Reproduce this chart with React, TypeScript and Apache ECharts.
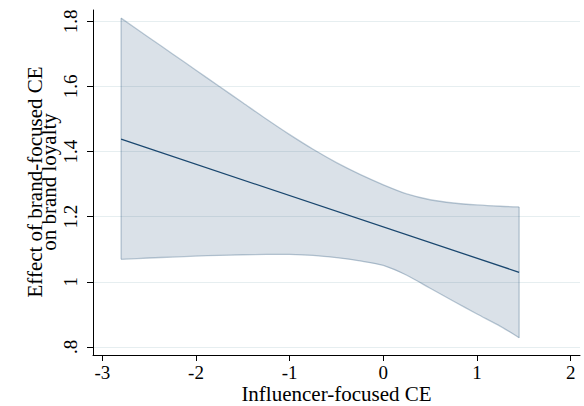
import React, { useEffect, useRef } from "react";
import * as echarts from "echarts";

// Band (95% CI)
const xValues = [-2.8, -2.5, -2.25, -2, -1.75, -1.5, -1.25, -1, -0.75, -0.5, -0.25, 0, 0.25, 0.5, 0.75, 1, 1.25, 1.45];
const upperValues = [1.81, 1.75, 1.7, 1.65, 1.6, 1.55, 1.5, 1.452, 1.407, 1.366, 1.33, 1.298, 1.27, 1.252, 1.242, 1.236, 1.232, 1.23];
const lowerValues = [1.069, 1.073, 1.076, 1.079, 1.081, 1.083, 1.084, 1.084, 1.081, 1.074, 1.064, 1.05, 1.02, 0.98, 0.94, 0.901, 0.863, 0.828];

// Estimated effect line (endpoints)
const lineX = [-2.8, 1.45];
const lineY = [1.438, 1.029];

// Ticks
const xTicks = [-3, -2, -1, 0, 1, 2];
const xTickLabels = ["-3", "-2", "-1", "0", "1", "2"];
const yTicks = [0.8, 1, 1.2, 1.4, 1.6, 1.8];
const yTickLabels = [".8", "1", "1.2", "1.4", "1.6", "1.8"];

// Titles
const xTitle = "Influencer-focused CE";
const yTitleLines = ["Effect of brand-focused CE", "on brand loyalty"];

const FONT = "Liberation Serif, DejaVu Serif";
const BASE_SIZE = 17.5;
const BAND_EDGE = "rgba(26,71,111,0.28)";
const BAND_FILL = "rgba(26,71,111,0.16)";

export default function App() {
  const ref = useRef<HTMLDivElement>(null);
  useEffect(() => {
    document.body.style.margin = "0";
    if (!ref.current) return;
    const chart = echarts.init(ref.current, undefined, { renderer: "svg" });
    const textStyle = (text: string) => ({
      text,
      fontFamily: FONT,
      fontSize: BASE_SIZE,
      fill: "#000",
      textAlign: "center",
      textVerticalAlign: "middle",
    });
    chart.setOption({
      animation: false,
      backgroundColor: "#ffffff",
      grid: { left: 93, top: 10, right: 4, bottom: 51 },
      xAxis: {
        type: "value",
        min: -3.1,
        max: 2.1,
        axisLine: { show: true, onZero: false, lineStyle: { color: "#000", width: 1 } },
        axisTick: { show: true, customValues: xTicks, length: 6, lineStyle: { color: "#000" } },
        axisLabel: { show: false },
        splitLine: { show: false },
      },
      yAxis: {
        type: "value",
        min: 0.775,
        max: 1.835,
        axisLine: { show: true, onZero: false, lineStyle: { color: "#000", width: 1 } },
        axisTick: { show: true, customValues: yTicks, length: 6, lineStyle: { color: "#000" } },
        axisLabel: { show: false },
        splitLine: { show: true, lineStyle: { color: "#e6eef0", width: 1 } },
      },
      series: [
        {
          type: "custom",
          silent: true,
          z: 2,
          data: [[xValues[0], upperValues[0]]],
          renderItem: (params: any, api: any) => {
            const up = xValues.map((x, i) => api.coord([x, upperValues[i]]));
            const lo = xValues.map((x, i) => api.coord([x, lowerValues[i]]));
            const n = xValues.length - 1;
            const edge = { stroke: BAND_EDGE, lineWidth: 1.3, fill: "none" };
            return {
              type: "group",
              children: [
                { type: "polygon", shape: { points: up.concat(lo.slice().reverse()), smooth: 0 }, style: { fill: BAND_FILL, stroke: "none" } },
                { type: "polyline", shape: { points: up, smooth: 0.3 }, style: edge },
                { type: "polyline", shape: { points: lo, smooth: 0.3 }, style: edge },
                { type: "line", shape: { x1: up[0][0], y1: up[0][1], x2: lo[0][0], y2: lo[0][1] }, style: edge },
                { type: "line", shape: { x1: up[n][0], y1: up[n][1], x2: lo[n][0], y2: lo[n][1] }, style: edge },
              ],
            };
          },
        },
        {
          type: "line",
          silent: true,
          z: 3,
          showSymbol: false,
          data: lineX.map((x, i) => [x, lineY[i]]),
          lineStyle: { color: "#1a476f", width: 1.3 },
        },
      ],
    });

    // Tick labels and titles as scaled text (positions from the chart's own scales)
    const tickScale = 19 / BASE_SIZE;
    const titleScale = 21 / BASE_SIZE;
    const graphics: any[] = [];
    xTicks.forEach((v, i) => {
      const px = chart.convertToPixel({ xAxisIndex: 0 }, v) as number;
      graphics.push({ type: "text", x: px, y: 372, scaleX: tickScale, scaleY: tickScale, silent: true, style: textStyle(xTickLabels[i]) });
    });
    yTicks.forEach((v, i) => {
      const py = chart.convertToPixel({ yAxisIndex: 0 }, v) as number;
      graphics.push({ type: "text", x: 70, y: py, rotation: Math.PI / 2, scaleX: tickScale, scaleY: tickScale, silent: true, style: textStyle(yTickLabels[i]) });
    });
    graphics.push({ type: "text", x: 336.5, y: 394, scaleX: titleScale, scaleY: titleScale, silent: true, style: textStyle(xTitle) });
    graphics.push({ type: "text", x: 34.5, y: 182, rotation: Math.PI / 2, scaleX: titleScale, scaleY: titleScale, silent: true, style: textStyle(yTitleLines[0]) });
    graphics.push({ type: "text", x: 48.5, y: 182, rotation: Math.PI / 2, scaleX: titleScale, scaleY: titleScale, silent: true, style: textStyle(yTitleLines[1]) });
    chart.setOption({ graphic: graphics });

    return () => chart.dispose();
  }, []);
  return <div ref={ref} style={{ width: 584, height: 406 }} />;
}
